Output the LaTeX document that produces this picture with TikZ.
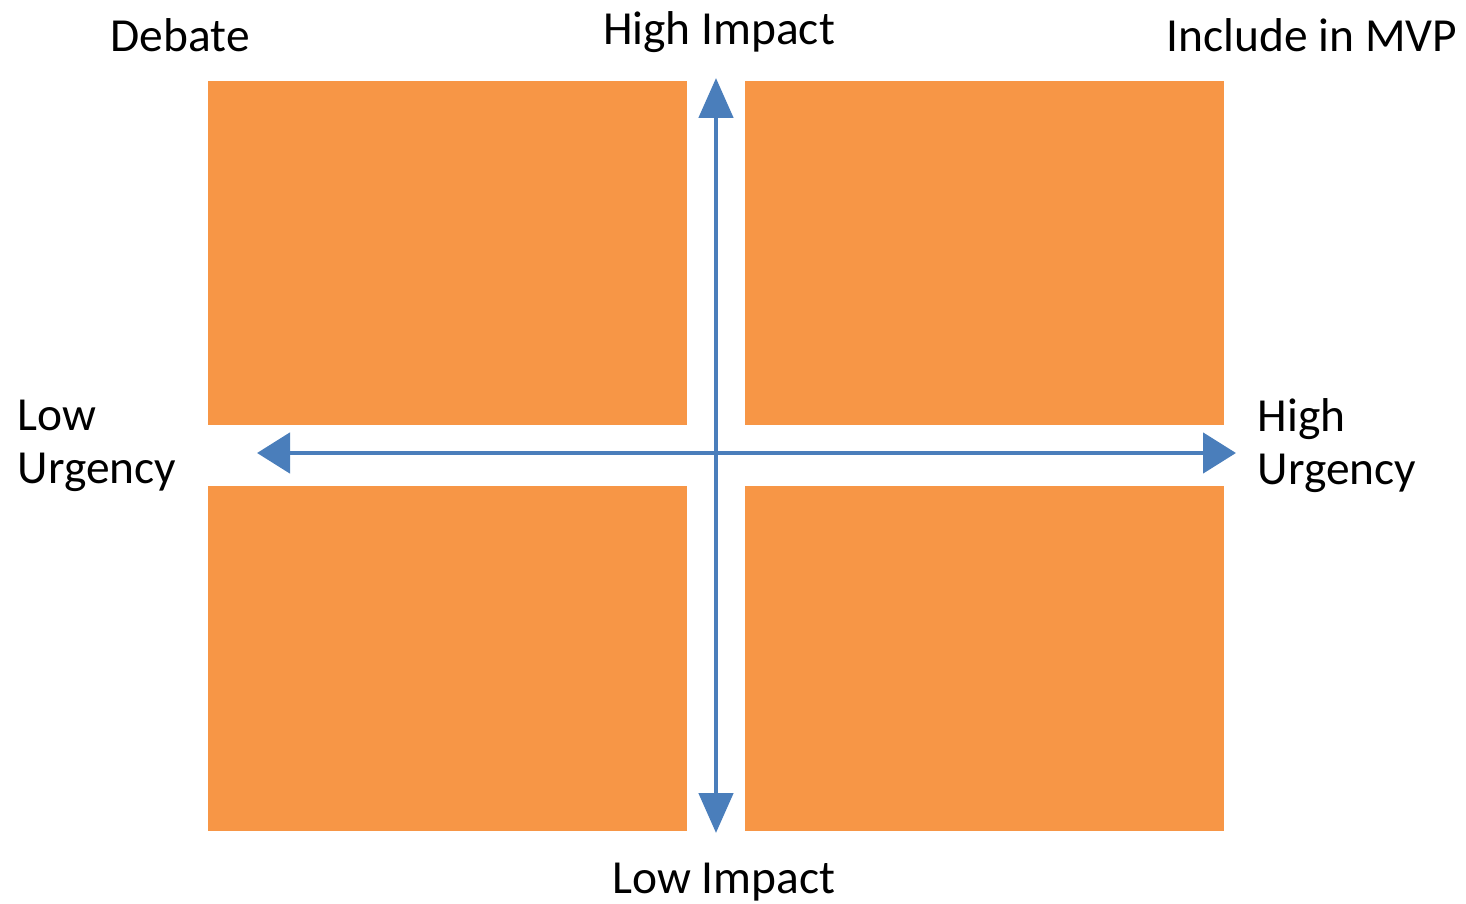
\documentclass[tikz,border=0pt]{standalone}
\usepackage{fontspec}
\setmainfont{Carlito}
\usetikzlibrary{arrows.meta}
\definecolor{quadorange}{HTML}{F79646}
\definecolor{axisblue}{HTML}{4A7EBB}

\begin{document}
\begin{tikzpicture}[q/.style={fill=quadorange, minimum width=4.79cm, minimum height=3.44cm, inner sep=0pt, outer sep=0pt},
                    ax/.style={draw=axisblue, line width=1.4pt},
                    t/.style={inner sep=0pt, font=\fontsize{13.5}{15.1}\selectfont}]
            \useasboundingbox (0,0) rectangle (14.66,9.03);
            %quadrants
            \node[q] (tl) at (4.475,6.50) {};
            \node[q] (tr) at (9.84,6.50) {};
            \node[q] (bl) at (4.475,2.445) {};
            \node[q] (br) at (9.84,2.445) {};

            %axes
            \coordinate (top) at (7.16,8.25);
            \coordinate (bot) at (7.16,0.70);
            \coordinate (lft) at (2.57,4.50);
            \coordinate (rgt) at (12.36,4.50);
            \draw[ax, {Triangle[length=0.40cm, width=0.34cm, fill=axisblue]}-{Triangle[length=0.40cm, width=0.34cm, fill=axisblue]}] (top) -- (bot);
            \draw[ax, {Triangle[length=0.33cm, width=0.40cm, fill=axisblue]}-{Triangle[length=0.33cm, width=0.40cm, fill=axisblue]}] (lft) -- (rgt);

            %labels
            \node[t, anchor=base west] (deb) at (1.10,8.51) {Debate};
            \node[t, anchor=base west] (mvp) at (11.66,8.51) {Include in MVP};
            \node[t, anchor=base] (hi) at (7.19,8.58) {High Impact};
            \node[t, anchor=base] (li) at (7.24,0.10) {Low Impact};
            \node[t, anchor=west, align=left] (lu) at (0.17,4.57) {Low\\Urgency};
            \node[t, anchor=west, align=left] (hu) at (12.57,4.57) {High\\Urgency};
        \end{tikzpicture}
\end{document}
